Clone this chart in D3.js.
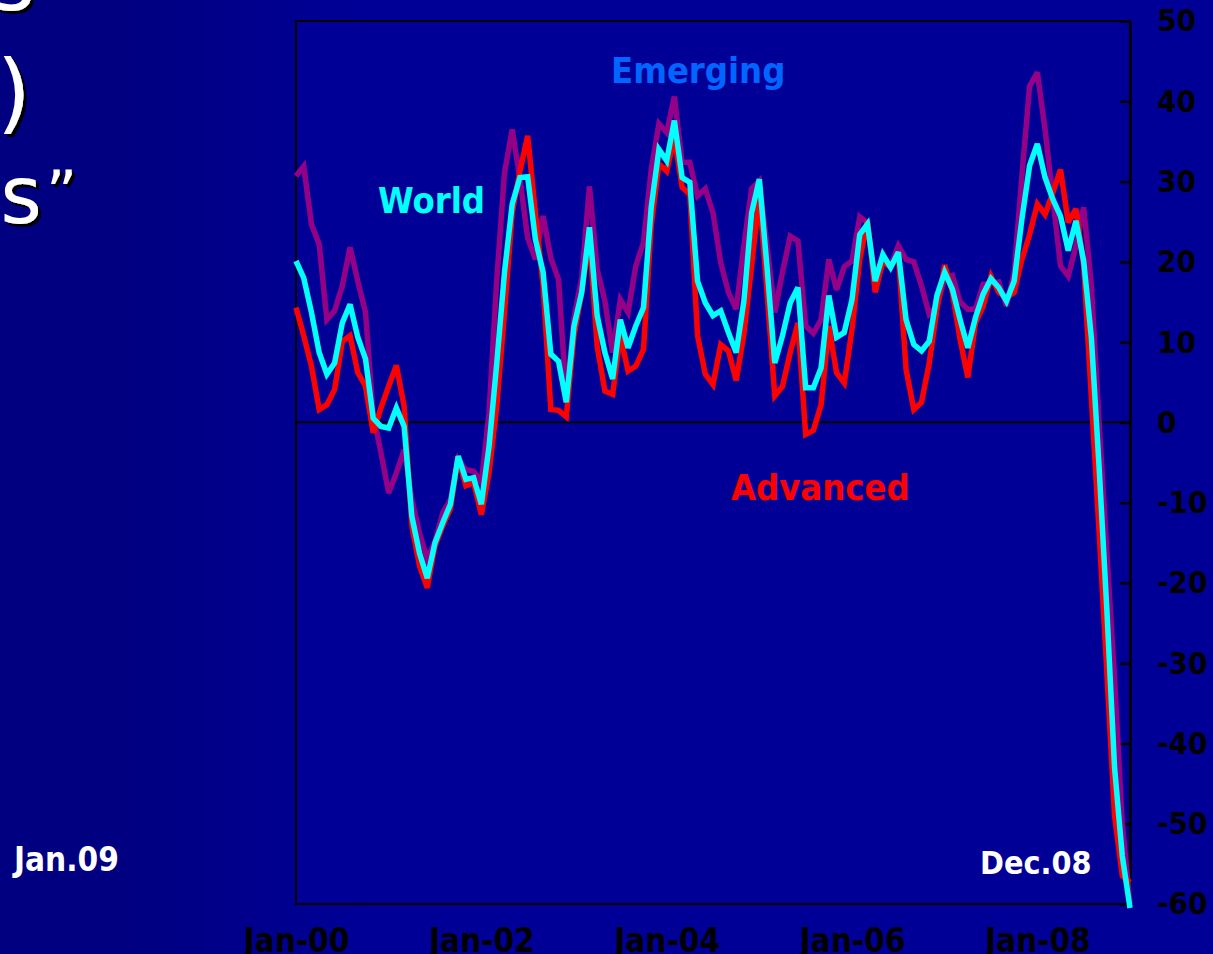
<!DOCTYPE html>
<html>
<head>
<meta charset="utf-8">
<script src="https://cdn.jsdelivr.net/npm/d3@7"></script>
<style>
  html, body { margin: 0; padding: 0; background: #000080; }
  svg { display: block; }
  .cf { font-family: "DejaVu Sans Condensed", "DejaVu Sans", sans-serif; font-stretch: condensed; font-weight: bold; }
</style>
</head>
<body>
<svg id="chart" width="1213" height="954"></svg>
<script>
// ---- data (monthly, % y/y) ----
const monthNames = ["Jan","Feb","Mar","Apr","May","Jun","Jul","Aug","Sep","Oct","Nov","Dec"];
const months = [];
for (let y = 0; y <= 9; y++) {
  for (let m = 0; m < 12; m++) {
    if (y === 9 && m > 0) break;
    months.push(monthNames[m] + "-0" + y);
  }
}
const tickLabels = ["Jan-00","Jan-02","Jan-04","Jan-06","Jan-08"];
const yTicks = [50,40,30,20,10,0,-10,-20,-30,-40,-50,-60];

const emerging = [30.7,31.9,24.7,22.2,12.8,13.9,17.0,21.8,17.6,13.7,1.0,-3.8,
  -8.8,-6.3,-3.4,-9.6,-13.8,-17.1,-14.8,-11.3,-9.6,-4.6,-5.9,-6.1,
  -7.5,1.2,17.8,31.1,36.5,30.3,23.0,20.3,25.7,20.5,17.8,3.0,
  13.0,18.0,29.4,19.1,15.1,8.7,15.3,13.7,19.5,22.4,31.5,37.2,
  36.1,40.6,32.4,32.4,28.2,29.1,26.1,19.9,16.2,14.1,22.0,29.1,
  30.1,22.0,13.7,18.7,23.2,22.6,12.0,11.1,12.8,20.3,16.5,19.4,
  20.1,25.6,24.9,17.6,20.3,19.5,22.0,20.3,20.0,17.0,13.5,14.5,
  18.0,18.3,15.0,14.1,14.1,17.2,17.3,17.5,14.5,18.7,30.7,41.9,
  43.6,36.5,28.0,19.5,18.2,22.0,26.8,17.0,0.0,-16.0,-32.0,-50.0,-60.0];

const advanced = [14.3,10.8,7.0,1.6,2.2,4.1,10.1,10.8,6.2,4.5,-1.3,1.8,
  4.5,7.1,2.0,-12.9,-17.9,-20.6,-15.4,-12.9,-10.8,-4.4,-7.9,-7.5,
  -11.5,-6.3,2.0,13.7,26.1,31.3,35.7,26.1,17.0,1.6,1.5,0.7,
  10.8,16.2,23.0,9.5,3.9,3.5,10.8,6.4,7.0,9.1,24.5,32.2,
  31.3,35.5,29.3,28.4,10.8,6.0,4.7,9.7,8.9,5.2,11.0,19.5,
  28.4,16.2,3.3,4.5,8.7,12.4,-1.5,-1.0,2.2,12.0,6.2,4.9,
  11.6,20.3,25.1,16.2,20.1,19.3,20.9,6.6,1.6,2.5,7.4,14.1,
  19.6,16.2,10.3,5.6,12.4,14.5,18.2,16.2,15.5,16.2,20.3,23.4,
  27.2,25.9,28.6,31.5,24.9,26.6,19.5,3.0,-13.6,-31.0,-49.0,-56.5,-57.3];

const world = [20.1,18.0,13.7,8.7,6.0,7.4,12.4,14.7,10.6,7.9,0.5,-0.5,
  -0.7,1.8,-0.5,-11.7,-16.3,-19.4,-15.0,-12.5,-10.2,-4.2,-7.1,-6.9,
  -10.2,-3.0,7.4,18.7,27.2,30.5,30.6,22.8,18.7,8.5,7.6,2.5,
  12.0,16.2,24.3,13.3,8.7,5.4,12.8,9.3,12.0,14.3,26.8,34.0,
  32.6,37.6,30.5,29.9,17.6,14.9,13.3,13.9,11.2,8.7,15.1,26.1,
  30.3,19.3,7.4,10.8,14.9,16.8,4.3,4.3,6.8,15.8,10.6,11.2,
  15.3,23.4,24.7,17.6,20.9,19.3,21.2,12.8,9.7,8.9,10.1,15.8,
  18.7,16.6,12.8,9.3,13.1,16.0,17.9,16.8,15.1,17.6,25.3,32.0,
  34.7,30.5,27.8,25.7,21.4,25.1,20.1,10.5,-5.6,-23.3,-43.0,-54.0,-60.5];

const seriesNames = ["Emerging","Advanced","World"];
const seriesColors = ["#940086","#ff0000","#00ffff"];

// ---- drawing ----
const svg = d3.select("#chart");
const W = 1213, H = 954;
const plot = {left: 296, right: 1130, top: 21, bottom: 904};

const defs = svg.append("defs");
const grad = defs.append("linearGradient").attr("id","bg").attr("gradientUnits","userSpaceOnUse")
  .attr("x1",120).attr("y1",0).attr("x2",360).attr("y2",0);
grad.append("stop").attr("offset","0").attr("stop-color","#000080");
grad.append("stop").attr("offset","1").attr("stop-color","#000096");
const shadow = defs.append("filter").attr("id","shadow").attr("x","-10%").attr("y","-10%")
  .attr("width","130%").attr("height","130%");
shadow.append("feDropShadow").attr("dx",3).attr("dy",3).attr("stdDeviation",0)
  .attr("flood-color","#000").attr("flood-opacity",1);

svg.append("rect").attr("x",0).attr("y",0).attr("width",W).attr("height",H).attr("fill","url(#bg)");

const x = d3.scalePoint().domain(months).range([plot.left, plot.right]);
const y = d3.scaleLinear().domain([-60, 50]).range([plot.bottom, plot.top]);

// plot frame
svg.append("rect").attr("x",plot.left).attr("y",plot.top)
  .attr("width",plot.right-plot.left).attr("height",plot.bottom-plot.top)
  .attr("fill","#000096").attr("stroke","#000").attr("stroke-width",2);

// zero line
svg.append("line").attr("x1",plot.left).attr("x2",plot.right)
  .attr("y1",y(0)).attr("y2",y(0)).attr("stroke","#000").attr("stroke-width",2);

// right axis
const yAxis = d3.axisRight(y).tickValues(yTicks).tickSizeInner(-10).tickSizeOuter(0).tickPadding(27)
  .tickFormat(d3.format("d"));
const gy = svg.append("g").attr("transform",`translate(${plot.right},0)`).call(yAxis);
gy.select(".domain").attr("stroke","#000").attr("stroke-width",2.5);
gy.selectAll(".tick line").attr("stroke","#000").attr("stroke-width",2.5);
gy.selectAll(".tick text").attr("class","cf").attr("fill","#000").style("font-size","31px")
  .text(d => d < 0 ? "-" + Math.abs(d) : d);

// bottom axis (labels only)
const xAxis = d3.axisBottom(x).tickValues(tickLabels).tickSize(0).tickPadding(25);
const gx = svg.append("g").attr("transform",`translate(0,${plot.bottom})`).call(xAxis);
gx.select(".domain").remove();
gx.selectAll(".tick text").attr("class","cf").attr("fill","#000").style("font-size","33px");

// lines
const data = [emerging, advanced, world];
const line = d3.line().x((d,i) => x(months[i])).y(d => y(d));
data.forEach((s, k) => {
  svg.append("path").datum(s).attr("d", line)
    .attr("fill","none").attr("stroke", seriesColors[k]).attr("stroke-width",5.5)
    .attr("stroke-linejoin","miter").attr("stroke-miterlimit",3);
});

// series labels
const labels = [
  {t:"Emerging", x:611, y:83, c:"#0066ff"},
  {t:"World", x:378, y:213, c:"#00ffff"},
  {t:"Advanced", x:731, y:500, c:"#ff0000"}
];
labels.forEach(l => {
  svg.append("text").attr("class","cf").attr("x",l.x).attr("y",l.y)
    .attr("fill",l.c).style("font-size","36px").text(l.t);
});

// annotations
svg.append("text").attr("class","cf").attr("x",980).attr("y",874).attr("fill","#fff")
  .style("font-size","32px").text("Dec.08");
svg.append("text").attr("class","cf").attr("x",14).attr("y",871).attr("fill","#fff")
  .style("font-size","33px").text("Jan.09");

// cropped slide title (only its right end is visible)
const titleLines = [
  {t:"World Trade Volumes", x:35, y:10, s:88},
  {t:"(% change y/y)", x:31, y:122, s:88},
  {t:"“Global trade crisis", x:42, y:223, s:80}
];
titleLines.forEach(l => {
  svg.append("text").attr("x",l.x).attr("y",l.y).attr("text-anchor","end")
    .attr("fill","#fff").attr("filter","url(#shadow)")
    .style("font-family","'DejaVu Sans', sans-serif").style("font-size",l.s+"px").text(l.t);
});
svg.append("text").attr("x",46).attr("y",214).attr("fill","#fff").attr("filter","url(#shadow)")
  .style("font-family","'DejaVu Sans', sans-serif").style("font-size","60px").text("”");
</script>
</body>
</html>
